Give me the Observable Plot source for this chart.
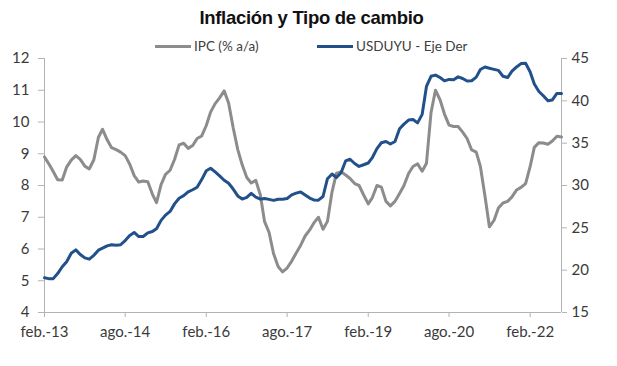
<!DOCTYPE html>
<html>
<head>
<meta charset="utf-8">
<script src="https://cdn.jsdelivr.net/npm/d3@7"></script>
<script src="https://cdn.jsdelivr.net/npm/@observablehq/plot@0.6"></script>
<style>
  html, body { margin: 0; padding: 0; background: #fff; }
  #wrap { position: relative; width: 617px; height: 366px; font-family: Lato, "Liberation Sans", sans-serif; }
  #title { position: absolute; left: 0; width: 617px; top: 7px; text-align: center; font-family: "Liberation Sans", Arial, sans-serif; font-weight: bold; font-size: 18.5px; color: #111; letter-spacing: -0.3px; padding-left: 6px; box-sizing: border-box; }
  .leg { position: absolute; top: 38px; font-size: 13.5px; color: #404040; white-space: nowrap; display: flex; align-items: center; }
  .sw { display: inline-block; width: 36px; height: 3px; margin-right: 3px; }
  svg { position: absolute; left: 0; top: 0; }
</style>
</head>
<body>
<div id="wrap">
  <div id="title">Inflación y Tipo de cambio</div>
  <div class="leg" style="left:155px"><span class="sw" style="background:#8c8c8c"></span><span id="l1"></span></div>
  <div class="leg" style="left:317px"><span class="sw" style="background:#21508a"></span><span id="l2"></span></div>
</div>
<script>
// ---- data ----
const seriesNames = ["IPC (% a/a)", "USDUYU - Eje Der"];
const startYear = 2013, startMonth = 1; // feb.-13
const ipc = [8.9,8.69,8.44,8.18,8.17,8.58,8.8,8.94,8.82,8.61,
  8.52,8.81,9.52,9.77,9.44,9.19,9.13,9.05,8.94,8.67,
  8.31,8.11,8.14,8.12,7.73,7.46,8.03,8.35,8.48,8.82,
  9.28,9.33,9.17,9.26,9.48,9.56,9.89,10.31,10.58,10.76,
  10.98,10.6,9.82,9.13,8.65,8.25,8.08,8.16,7.7,6.87,
  6.52,5.86,5.45,5.28,5.4,5.62,5.87,6.12,6.41,6.6,
  6.84,7.0,6.62,6.87,7.8,8.39,8.43,8.33,8.22,8.06,
  8.0,7.7,7.42,7.62,8.0,7.95,7.5,7.36,7.5,7.75,
  8.0,8.38,8.6,8.68,8.45,8.7,10.3,11.0,10.7,10.25,
  9.9,9.86,9.86,9.68,9.48,9.12,9.05,8.6,7.67,6.7,
  6.9,7.29,7.45,7.5,7.64,7.86,7.94,8.06,8.6,9.2,
  9.35,9.34,9.3,9.4,9.55,9.53];
const usduyu = [19.1,19.0,19.0,19.6,20.4,21.0,22.0,22.4,21.85,21.45,
  21.3,21.75,22.36,22.6,22.87,23.0,22.95,23.0,23.5,24.1,
  24.45,23.97,23.98,24.4,24.56,24.9,25.88,26.5,26.94,27.83,
  28.5,28.8,29.24,29.5,29.8,30.7,31.74,32.04,31.6,31.14,
  30.62,30.26,29.58,28.77,28.4,28.6,29.07,28.63,28.39,28.47,
  28.36,28.24,28.38,28.38,28.47,28.89,29.1,29.24,28.88,28.52,
  28.28,28.27,28.7,30.8,31.36,30.95,31.5,32.9,33.1,32.6,
  32.25,32.45,32.66,33.3,34.35,35.05,35.2,34.9,35.2,36.7,
  37.25,37.73,37.8,37.4,38.4,41.7,42.9,43.04,42.75,42.36,
  42.53,42.5,42.83,42.64,42.34,42.37,42.8,43.7,44.0,43.85,
  43.72,43.6,42.9,42.75,43.5,44.0,44.4,44.45,43.4,42.0,
  41.1,40.6,40.0,40.1,40.87,40.87];
const leftTicks = [4,5,6,7,8,9,10,11,12];
const rightTicks = [15,20,25,30,35,40,45];
const xTickLabels = ["feb.-13","ago.-14","feb.-16","ago.-17","feb.-19","ago.-20","feb.-22"];
const xTickStep = 18; // months between labels

// ---- build ----
const monthDate = i => new Date(Date.UTC(startYear, startMonth + i, 1));
const data = ipc.map((v, i) => ({date: monthDate(i), ipc: v, usd: usduyu[i]}));
const L0 = leftTicks[0], L1 = leftTicks[leftTicks.length-1];
const R0 = rightTicks[0], R1 = rightTicks[rightTicks.length-1];
const toLeft = r => L0 + (r - R0) * (L1 - L0) / (R1 - R0);
const fromLeft = l => R0 + (l - L0) * (R1 - R0) / (L1 - L0);
const xTicks = xTickLabels.map((_, k) => monthDate(k * xTickStep));
const xLabelOf = new Map(xTicks.map((d, k) => [+d, xTickLabels[k]]));
const d0 = data[0].date, d1 = data[data.length-1].date;

document.getElementById("l1").textContent = seriesNames[0];
document.getElementById("l2").textContent = seriesNames[1];

const axisGray = "#b3b3b3", textCol = "#3a3a3a";
const chart = Plot.plot({
  width: 617, height: 366,
  marginLeft: 44, marginRight: 56, marginTop: 58, marginBottom: 54,
  style: {fontFamily: "Lato, 'Liberation Sans', sans-serif", fontSize: "15px", background: "transparent"},
  x: {type: "utc", domain: [d0, d1]},
  y: {domain: [L0, L1]},
  marks: [
    Plot.axisY(leftTicks, {anchor: "left", tickSize: 6, tickPadding: 9, stroke: axisGray, fill: textCol, label: null, tickFormat: d => String(d)}),
    Plot.axisY(rightTicks.map(toLeft), {anchor: "right", tickSize: 5, tickPadding: 5, stroke: axisGray, fill: textCol, label: null, tickFormat: d => String(Math.round(fromLeft(d)))}),
    Plot.axisX(xTicks, {anchor: "bottom", tickSize: 5, tickPadding: 9, stroke: axisGray, fill: textCol, label: null, tickFormat: d => xLabelOf.get(+d)}),
    Plot.ruleX([d0], {stroke: axisGray}),
    Plot.ruleX([d1], {stroke: axisGray}),
    Plot.ruleY([L0], {stroke: axisGray}),
    Plot.line(data, {x: "date", y: "ipc", stroke: "#8c8c8c", strokeWidth: 3, strokeLinejoin: "round", strokeLinecap: "round"}),
    Plot.line(data, {x: "date", y: d => toLeft(d.usd), stroke: "#21508a", strokeWidth: 3, strokeLinejoin: "round", strokeLinecap: "round"})
  ]
});
document.getElementById("wrap").prepend(chart);
</script>
</body>
</html>
